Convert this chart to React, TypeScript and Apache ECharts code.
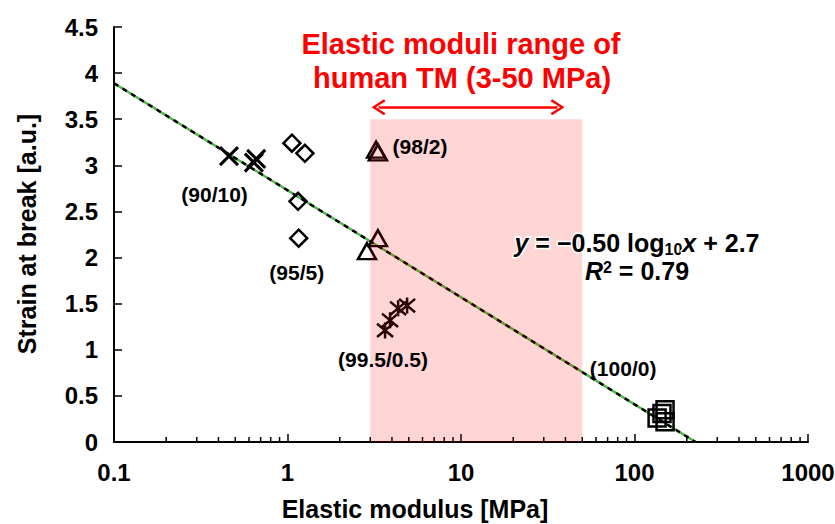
import React, { useEffect, useRef } from "react";
import * as echarts from "echarts";

// ---- data ----
const xTickLabels = ["0.1", "1", "10", "100", "1000"];
const minorTickValues = [
  0.2, 0.3, 0.4, 0.5, 0.6, 0.7, 0.8, 0.9,
  2, 3, 4, 5, 6, 7, 8, 9,
  20, 30, 40, 50, 60, 70, 80, 90,
  200, 300, 400, 500, 600, 700, 800, 900,
];

const group90_10 = [[0.46, 3.1], [0.64, 3.03], [0.66, 3.07]];
const group95_5 = [[1.06, 3.24], [1.26, 3.13], [1.15, 2.61], [1.16, 2.21]];
const group98_2 = [[3.24, 3.17], [3.32, 3.14], [3.32, 2.21], [2.87, 2.07]];
const group995_05 = [[3.65, 1.21], [3.9, 1.32], [4.34, 1.45], [4.89, 1.48]];
const group100_0 = [[135, 0.26], [150, 0.35], [150, 0.22], [144, 0.31]];

const trendX = [0.1, 225];
const trendY = [3.89, 0];

const rangeX = [3, 50];
const rangeTop = 3.5;
const arrowX = [3.35, 36];
const arrowY = 3.63;

const groupNames = ["(90/10)", "(95/5)", "(98/2)", "(99.5/0.5)", "(100/0)"];
const groupLabelX = [0.38, 1.13, 5.8, 3.55, 86];
const groupLabelY = [2.68, 1.84, 3.2, 0.9, 0.8];

const FONT = '"Liberation Sans", Arial, Helvetica, sans-serif';

export default function App() {
  const ref = useRef<HTMLDivElement>(null);

  useEffect(() => {
    document.body.style.margin = "0";
    const chart = echarts.init(ref.current!, null, { renderer: "svg" });

    const scatter = (data: number[][], symbol: string, size: any, bw: number) => ({
      type: "scatter",
      data,
      symbol,
      symbolSize: size,
      itemStyle: { color: "transparent", borderColor: "#000", borderWidth: bw, opacity: 1 },
      silent: true,
      z: 2,
    });

    const trendData = trendX.map((x, i) => [x, trendY[i]]);
    const chevron = "path://M8,0 L16,12 L14,13.6 L8,4.2 L2,13.6 L0,12 Z";

    chart.setOption({
      animation: false,
      grid: {
        left: 114,
        right: 27,
        top: 27,
        bottom: 82,
        containLabel: false,
        outerBoundsMode: "none",
      },
      xAxis: {
        type: "log",
        logBase: 10,
        min: 0.1,
        max: 1000,
        axisLine: { show: true, lineStyle: { color: "#000", width: 2 } },
        axisTick: { show: true, inside: true, length: 8, lineStyle: { color: "#000", width: 1.5 } },
        minorTick: { show: false },
        splitLine: { show: false },
        axisLabel: {
          color: "#000",
          fontSize: 24,
          fontWeight: "bold",
          fontFamily: FONT,
          margin: 18,
          formatter: (v: number) => xTickLabels[Math.round(Math.log10(v)) + 1] ?? "",
        },
      },
      yAxis: {
        type: "value",
        min: 0,
        max: 4.5,
        interval: 0.5,
        axisLine: { show: true, lineStyle: { color: "#000", width: 2 } },
        axisTick: { show: true, inside: true, length: 8, lineStyle: { color: "#000", width: 1.5 } },
        splitLine: { show: false },
        axisLabel: {
          color: "#000",
          fontSize: 24,
          fontWeight: "bold",
          fontFamily: FONT,
          margin: 16,
        },
      },
      series: [
        // minor ticks on the log axis
        {
          type: "custom",
          coordinateSystem: "cartesian2d",
          data: minorTickValues.map((v) => [v, 0]),
          renderItem: (_p: any, api: any) => {
            const pt = api.coord([api.value(0), api.value(1)]);
            return {
              type: "line",
              shape: { x1: pt[0], y1: pt[1], x2: pt[0], y2: pt[1] - 5 },
              style: { stroke: "#000", lineWidth: 1.5 },
            };
          },
          silent: true,
          clip: false,
          z: 3,
        },
        // trend line: green under, black dashes on top
        {
          type: "line",
          data: trendData,
          symbol: "none",
          lineStyle: { color: "#4db845", width: 2.4, type: "solid" },
          silent: true,
          z: 1,
        },
        {
          type: "line",
          data: trendData,
          symbol: "none",
          lineStyle: { color: "#000", width: 2.4, type: [5, 5] },
          silent: true,
          z: 1,
        },
        scatter(group90_10, "path://M0,0 L10,10 M10,0 L0,10", 18, 3),
        scatter(group95_5, "diamond", [17, 17], 2.5),
        scatter(group98_2, "triangle", [18, 16], 2.5),
        scatter(group995_05, "path://M0,0 L10,10 M10,0 L0,10 M5,-1 L5,11", 16, 2.5),
        scatter(group100_0, "rect", 17, 2.5),
        // pink range overlay + arrow
        {
          type: "line",
          data: [],
          silent: true,
          z: 5,
          markArea: {
            silent: true,
            z: 5,
            itemStyle: { color: "rgba(255,0,0,0.165)" },
            label: { show: false },
            data: [[{ xAxis: rangeX[0], yAxis: 0 }, { xAxis: rangeX[1], yAxis: rangeTop }]],
          },
          markLine: {
            silent: true,
            z: 6,
            symbol: [chevron, chevron],
            symbolSize: [16, 14],
            lineStyle: { color: "#ff0000", width: 2.5, type: "solid" },
            label: { show: false },
            data: [[{ coord: [arrowX[0], arrowY] }, { coord: [arrowX[1], arrowY] }]],
          },
        },
        // group labels
        {
          type: "scatter",
          symbolSize: 1,
          itemStyle: { color: "transparent", opacity: 1 },
          silent: true,
          z: 10,
          data: groupNames.map((n, i) => ({ name: n, value: [groupLabelX[i], groupLabelY[i]] })),
          label: {
            show: true,
            position: "inside",
            formatter: "{b}",
            color: "#000",
            opacity: 1,
            textBorderWidth: 0,
            textBorderColor: "transparent",
            fontSize: 21,
            fontWeight: "bold",
            fontFamily: FONT,
          },
        },
      ],
      graphic: [
        {
          type: "text",
          x: 461,
          y: 44,
          z: 100,
          style: {
            text: "Elastic moduli range of",
            fontSize: 29,
            fontWeight: "bold",
            fontFamily: FONT,
            fill: "#ff0000",
            align: "center",
            verticalAlign: "middle",
          },
        },
        {
          type: "text",
          x: 462,
          y: 78,
          z: 100,
          style: {
            text: "human TM (3-50 MPa)",
            fontSize: 29,
            fontWeight: "bold",
            fontFamily: FONT,
            fill: "#ff0000",
            align: "center",
            verticalAlign: "middle",
          },
        },
        {
          type: "text",
          x: 415,
          y: 509,
          z: 100,
          style: {
            text: "Elastic modulus [MPa]",
            fontSize: 25,
            fontWeight: "bold",
            fontFamily: FONT,
            fill: "#000",
            align: "center",
            verticalAlign: "middle",
          },
        },
        {
          type: "text",
          x: 27,
          y: 234,
          rotation: Math.PI / 2,
          z: 100,
          style: {
            text: "Strain at break [a.u.]",
            fontSize: 25,
            fontWeight: "bold",
            fontFamily: FONT,
            fill: "#000",
            align: "center",
            verticalAlign: "middle",
          },
        },
        {
          type: "text",
          x: 637,
          y: 243,
          z: 100,
          style: {
            text: "{i|y} = \u22120.50 log{s|10}{i|x} + 2.7",
            fontSize: 25,
            fontWeight: "bold",
            fontFamily: FONT,
            lineHeight: 28,
            fill: "#000",
            stroke: "#fff",
            lineWidth: 3,
            align: "center",
            verticalAlign: "middle",
            rich: {
              i: { fontStyle: "italic", fontWeight: "bold", fontSize: 25, fontFamily: FONT, fill: "#000", lineHeight: 28 },
              s: { fontWeight: "bold", fontSize: 16, fontFamily: FONT, fill: "#000", verticalAlign: "bottom", lineHeight: 16 },
            },
          },
        },
        {
          type: "text",
          x: 637,
          y: 271,
          z: 100,
          style: {
            text: "{i|R}{p|2} = 0.79",
            fontSize: 25,
            fontWeight: "bold",
            fontFamily: FONT,
            lineHeight: 24,
            fill: "#000",
            align: "center",
            verticalAlign: "middle",
            rich: {
              i: { fontStyle: "italic", fontWeight: "bold", fontSize: 25, fontFamily: FONT, fill: "#000", lineHeight: 24 },
              p: { fontWeight: "bold", fontSize: 16, fontFamily: FONT, fill: "#000", verticalAlign: "top", lineHeight: 16 },
            },
          },
        },
      ],
    });

    return () => chart.dispose();
  }, []);

  return <div ref={ref} style={{ width: 835, height: 524 }} />;
}
